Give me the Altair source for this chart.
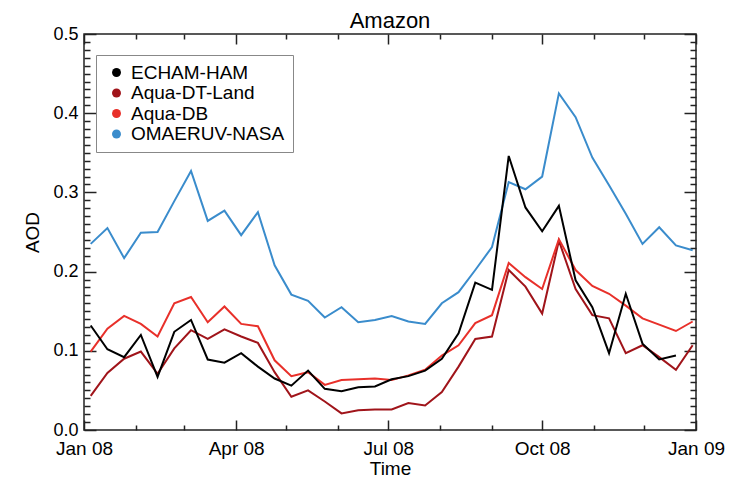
import altair as alt
import pandas as pd

FONT = "Liberation Sans"

dates = ["2008-01-05", "2008-01-15", "2008-01-25", "2008-02-04", "2008-02-14", "2008-02-24",
         "2008-03-05", "2008-03-15", "2008-03-25", "2008-04-04", "2008-04-14", "2008-04-24",
         "2008-05-04", "2008-05-14", "2008-05-24", "2008-06-03", "2008-06-13", "2008-06-23",
         "2008-07-03", "2008-07-13", "2008-07-23", "2008-08-02", "2008-08-12", "2008-08-22",
         "2008-09-01", "2008-09-11", "2008-09-21", "2008-10-01", "2008-10-11", "2008-10-21",
         "2008-10-31", "2008-11-10", "2008-11-20", "2008-11-30", "2008-12-10", "2008-12-20",
         "2008-12-30"]

series_names = ["ECHAM-HAM", "Aqua-DT-Land", "Aqua-DB", "OMAERUV-NASA"]
series_colors = ["#000000", "#a0141a", "#e8302a", "#3a8ccc"]

echam_ham = [0.132, 0.102, 0.092, 0.120, 0.067, 0.124, 0.139, 0.089, 0.085, 0.097, 0.080, 0.065,
             0.056, 0.075, 0.052, 0.049, 0.054, 0.055, 0.064, 0.068, 0.075, 0.090, 0.122, 0.186,
             0.177, 0.346, 0.281, 0.251, 0.283, 0.189, 0.155, 0.097, 0.172, 0.109, 0.089, 0.094, None]
aqua_dt_land = [0.043, 0.072, 0.090, 0.099, 0.071, 0.103, 0.126, 0.115, 0.127, 0.118, 0.110, 0.073,
                0.042, 0.050, 0.036, 0.021, 0.025, 0.026, 0.026, 0.034, 0.031, 0.048, 0.080, 0.115,
                0.118, 0.202, 0.181, 0.147, 0.239, 0.178, 0.145, 0.141, 0.097, 0.107, 0.092, 0.076, 0.107]
aqua_db = [0.099, 0.128, 0.144, 0.134, 0.118, 0.160, 0.168, 0.136, 0.156, 0.134, 0.131, 0.088,
           0.068, 0.073, 0.057, 0.063, 0.064, 0.065, 0.063, 0.069, 0.076, 0.094, 0.107, 0.135,
           0.145, 0.211, 0.193, 0.178, 0.241, 0.202, 0.182, 0.172, 0.157, 0.141, 0.133, 0.125, 0.137]
omaeruv_nasa = [0.235, 0.255, 0.217, 0.249, 0.250, 0.289, 0.327, 0.264, 0.277, 0.246, 0.275, 0.208,
                0.171, 0.163, 0.142, 0.155, 0.136, 0.139, 0.144, 0.137, 0.134, 0.160, 0.174, 0.202,
                0.231, 0.313, 0.304, 0.320, 0.425, 0.395, 0.344, 0.309, 0.273, 0.235, 0.256, 0.233, 0.227]

y_major = [0.0, 0.1, 0.2, 0.3, 0.4, 0.5]

rows = []
for name, vals in [("OMAERUV-NASA", omaeruv_nasa), ("Aqua-DT-Land", aqua_dt_land),
                   ("Aqua-DB", aqua_db), ("ECHAM-HAM", echam_ham)]:
    for d, v in zip(dates, vals):
        if v is not None:
            rows.append({"date": d, "aod": v, "series": name})
df = pd.DataFrame(rows)

W, H = 612, 396


def dt(y, m, d=1):
    return alt.DateTime(year=y, month=m, date=d, utc=True)


x_major = [dt(2008, 1), dt(2008, 4), dt(2008, 7), dt(2008, 10), dt(2009, 1)]
x_minor = [dt(2008, m) for m in [2, 3, 5, 6, 8, 9, 11, 12]]
y_minor = [round(i / 100, 2) for i in range(1, 50) if i % 10 != 0]

xscale = alt.Scale(type="utc", domain=[dt(2008, 1), dt(2009, 1)], nice=False)
yscale = alt.Scale(domain=[0, 0.5], nice=False, zero=False)
cscale = alt.Scale(domain=series_names, range=series_colors)

TICK_COLOR = "#222222"


def tick_axis(orient, values, size, offset):
    return alt.Axis(orient=orient, values=values, tickSize=size, offset=offset, labels=False,
                    domain=False, grid=False, title=None, ticks=True, tickColor=TICK_COLOR,
                    tickWidth=1.5)


lines = alt.Chart(df).mark_line(strokeWidth=2).encode(
    x=alt.X("date:T", scale=xscale,
            axis=alt.Axis(orient="bottom", values=x_major, format="%b %y",
                          ticks=False, domain=False, grid=False, title="Time",
                          labelPadding=9, titlePadding=1, labelFlush=False,
                          labelFontSize=19, titleFontSize=19, labelFont=FONT, titleFont=FONT,
                          labelColor="black", titleColor="black", titleFontWeight="normal")),
    y=alt.Y("aod:Q", scale=yscale,
            axis=alt.Axis(orient="left", values=y_major, format=".1f", ticks=False,
                          domain=False, grid=False, title="AOD", labelPadding=6,
                          titlePadding=10,
                          labelFontSize=18, titleFontSize=19, labelFont=FONT, titleFont=FONT,
                          labelColor="black", titleColor="black", titleFontWeight="normal")),
    color=alt.Color("series:N", scale=cscale, legend=None),
    detail="series:N",
)

# empty circle layer: supplies the filled-dot legend only
legend_dots = alt.Chart(df).transform_filter("datum.aod < 0").mark_circle(
    size=80, opacity=1
).encode(
    x=alt.X("date:T", scale=xscale, axis=None),
    y=alt.Y("aod:Q", scale=yscale, axis=None),
    color=alt.Color("series:N", scale=cscale,
                    legend=alt.Legend(
                        title=None, orient="none", legendX=12, legendY=21,
                        symbolType="circle", symbolSize=80, labelFontSize=19,
                        labelFont=FONT, labelColor="black",
                        fillColor="white", strokeColor="#888888", padding=8,
                        symbolOffset=3, labelOffset=5, rowPadding=0.5,
                        symbolStrokeWidth=0)),
)


def tick_layer(xaxis, yaxis):
    return alt.Chart(df).mark_point(opacity=0).encode(
        x=alt.X("date:T", scale=xscale, axis=xaxis),
        y=alt.Y("aod:Q", scale=yscale, axis=yaxis),
    )


t_major_in = tick_layer(tick_axis("top", x_major, 10, -H), tick_axis("right", y_major, 12, -W))
t_major_out = tick_layer(tick_axis("bottom", x_major, 10, -H), tick_axis("left", y_major, 12, -W))
t_minor_in = tick_layer(tick_axis("top", x_minor, 5, -H), tick_axis("right", y_minor, 6, -W))
t_minor_out = tick_layer(tick_axis("bottom", x_minor, 5, -H), tick_axis("left", y_minor, 6, -W))

chart = alt.layer(t_major_in, t_major_out, t_minor_in, t_minor_out, lines, legend_dots).resolve_axis(
    x="independent", y="independent"
).resolve_legend(
    color="independent"
).properties(
    width=W, height=H,
    padding={"left": 76, "top": 26, "right": 31, "bottom": 48},
    autosize=alt.AutoSizeParams(type="none"),
    background="white",
    title=alt.Title("Amazon", fontSize=22, font=FONT, fontWeight="normal", color="black",
                    offset=-8),
).configure_view(
    stroke=TICK_COLOR, strokeWidth=1.5
)

chart.save("out.html", embed_options={"renderer": "svg", "actions": False})
